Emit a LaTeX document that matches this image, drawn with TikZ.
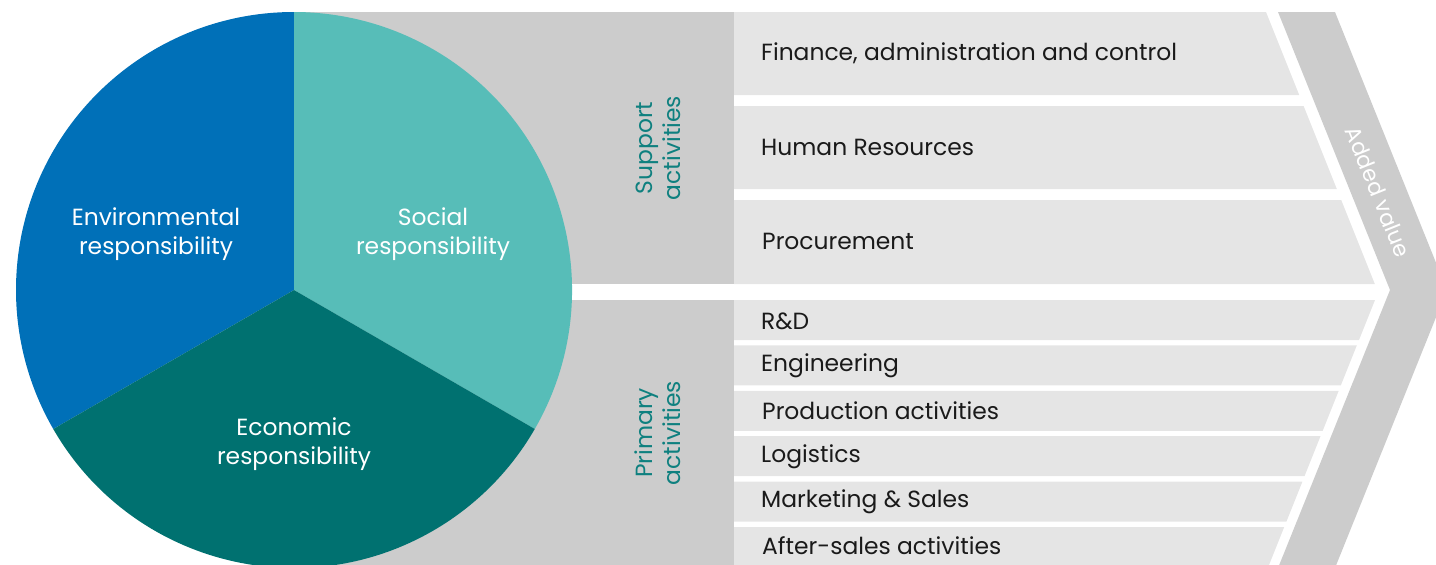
\documentclass[tikz,border=0pt]{standalone}
\usepackage{fontspec}
\setmainfont{Poppins}
\usepackage{tikz}
\usetikzlibrary{positioning}
\usepackage{xcolor}
\definecolor{csrblue}{RGB}{0,112,184}
\definecolor{csrteal}{RGB}{87,189,184}
\definecolor{csrdark}{RGB}{0,113,112}
\definecolor{vcgray}{RGB}{204,204,204}
\definecolor{vclight}{RGB}{229,229,229}
\definecolor{vcteal}{RGB}{14,128,127}
\definecolor{vctext}{RGB}{26,26,26}
\tikzstyle{slicelabel} = [align=center, text=white, font=\fontsize{23.4}{29}\selectfont]
\tikzstyle{grouplabel} = [align=center, text=vcteal, rotate=90, font=\fontsize{23.4}{28}\selectfont]
\tikzstyle{rowlabel} = [anchor=west, inner sep=0pt, text=vctext, font=\fontsize{23.4}{28}\selectfont]
\tikzstyle{actrow} = [fill=vclight]

\begin{document}
\begin{tikzpicture}[x=1pt, y=-1pt]
\useasboundingbox (0,0) rectangle (1436,565);
\clip (0,0) rectangle (1436,565);

% Gray columns behind the pie
\fill[vcgray] (294,12) rectangle (734,284);
\fill[vcgray] (294,300) rectangle (734,570);

% Pie of responsibilities
\coordinate (pc) at (294,290);
\fill[csrblue] (pc) -- ++(-90:278) arc[start angle=-90, end angle=-210, radius=278] -- cycle;
\fill[csrteal] (pc) -- ++(30:278) arc[start angle=30, end angle=-90, radius=278] -- cycle;
\fill[csrdark] (pc) -- ++(150:278) arc[start angle=150, end angle=30, radius=278] -- cycle;
\node (envlabel) [slicelabel] at (156,234) {Environmental\\responsibility};
\node (soclabel) [slicelabel] at (433,234) {Social\\responsibility};
\node (ecolabel) [slicelabel] at (294,444) {Economic\\responsibility};

% Support activities
\node (suplabel) [grouplabel] at (658,148) {Support\\activities};
\fill[actrow] (734,12) -- (1266,12) -- (1299.2,95) -- (734,95) -- cycle;
\fill[actrow] (734,106) -- (1303.6,106) -- (1336.8,189) -- (734,189) -- cycle;
\fill[actrow] (734,200) -- (1341.2,200) -- (1374.8,284) -- (734,284) -- cycle;
\node (fin) [rowlabel] at (761,53) {Finance, administration and control};
\node (hr) [rowlabel] at (761,147) {Human Resources};
\node (proc) [rowlabel] at (762,241) {Procurement};

% Primary activities
\node (prilabel) [grouplabel] at (658,433) {Primary\\activities};
\fill[actrow] (734,300) -- (1375,300) -- (1359,340) -- (734,340) -- cycle;
\fill[actrow] (734,345.4) -- (1356.8,345.4) -- (1340.8,385.4) -- (734,385.4) -- cycle;
\fill[actrow] (734,390.8) -- (1338.7,390.8) -- (1322.7,430.8) -- (734,430.8) -- cycle;
\fill[actrow] (734,436.2) -- (1320.5,436.2) -- (1304.5,476.2) -- (734,476.2) -- cycle;
\fill[actrow] (734,481.6) -- (1302.4,481.6) -- (1286.4,521.6) -- (734,521.6) -- cycle;
\fill[actrow] (734,527) -- (1284.2,527) -- (1268.2,567) -- (734,567) -- cycle;
\node (rnd) [rowlabel] at (761,321) {R\&D};
\node (eng) [rowlabel] at (761,366) {Engineering};
\node (prod) [rowlabel] at (762,411) {Production activities};
\node (logi) [rowlabel] at (761,456.5) {Logistics};
\node (mkt) [rowlabel] at (761,501.5) {Marketing \& Sales};
\node (aftsales) [rowlabel] at (762,546) {After-sales activities};

% Added value chevron
\fill[vcgray] (1278,12) -- (1335,12) -- (1447,290) -- (1335,568) -- (1278,568) -- (1390,290) -- cycle;
\node (addval) [text=white, inner sep=0pt, rotate=-68, font=\fontsize{22}{26}\selectfont] at (1378,192) {Added value};
\end{tikzpicture}
\end{document}
